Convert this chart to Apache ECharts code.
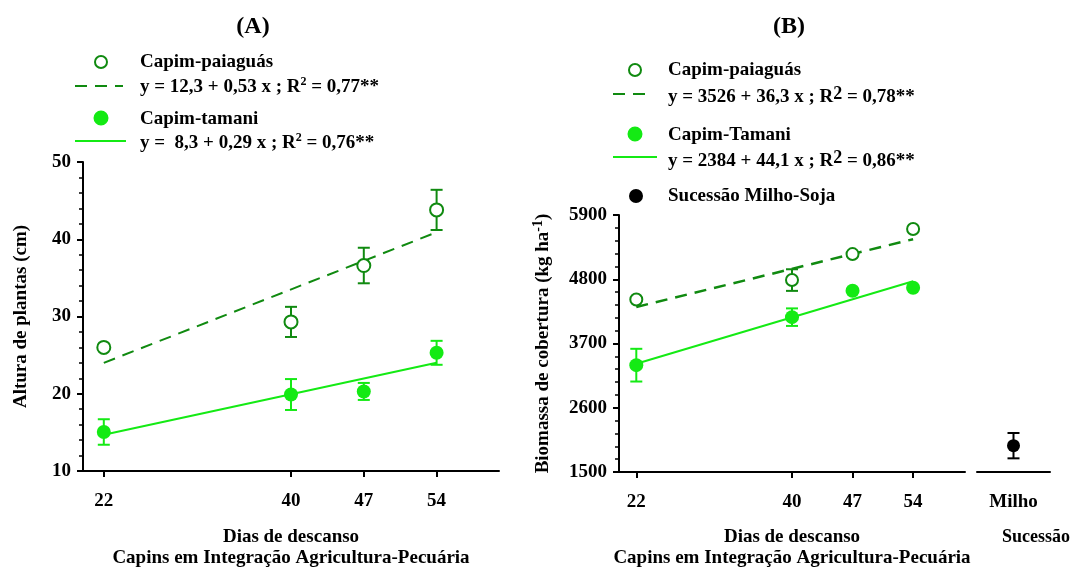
<!DOCTYPE html>
<html>
<head>
<meta charset="utf-8">
<script src="https://cdn.jsdelivr.net/npm/echarts@6/dist/echarts.min.js"></script>
<style>
html,body{margin:0;padding:0;background:#fff;}
#main{width:1072px;height:567px;}
</style>
</head>
<body>
<div id="main"></div>
<script>
// dados
var dias = [22, 40, 47, 54];
var alturaPaia = [26.0, 29.3, 36.6, 43.8];
var alturaPaiaErr = [0, 1.95, 2.3, 2.6];
var alturaTam = [15.05, 19.9, 20.3, 25.3];
var alturaTamErr = [1.65, 2.0, 1.1, 1.55];
var ajusteAlturaPaia = [[22, 24.0], [54, 40.9]];
var ajusteAlturaTam = [[22, 14.7], [54, 24.0]];

var bioPaia = [4454, 4786, 5231, 5660];
var bioPaiaErr = [0, 185, 0, 0];
var bioTam = [3329, 4151, 4603, 4654];
var bioTamErr = [280, 150, 0, 0];
var ajusteBioPaia = [[22, 4325], [54, 5486]];
var ajusteBioTam = [[22, 3354], [54, 4765]];

var milhoCat = ['Milho'];
var milho = [1951];
var milhoErr = [217];

var ticksA = [10, 20, 30, 40, 50];
var ticksB = [1500, 2600, 3700, 4800, 5900];

var escuro = '#108a10';
var claro = '#14ea14';
var fonte = 'Liberation Serif, Times New Roman, serif';
var fs = 19;

function pontos(xs, ys){
	var out = [];
	xs.forEach(function(x, i){ out.push([x, ys[i]]); });
	return out;
}
function barras(xs, ys, es){
	var out = [];
	xs.forEach(function(x, i){
		if(es[i] > 0) out.push([x, ys[i] - es[i], ys[i] + es[i]]);
	});
	return out;
}
function erroSerie(xi, yi, data, cor){
	return {
		type: 'custom', xAxisIndex: xi, yAxisIndex: yi, data: data, z: 3,
		renderItem: function(params, api){
			var lo = api.coord([api.value(0), api.value(1)]);
			var hi = api.coord([api.value(0), api.value(2)]);
			var w = 6;
			var st = {stroke: cor, lineWidth: 2};
			return {type: 'group', children: [
				{type: 'line', shape: {x1: lo[0], y1: lo[1], x2: hi[0], y2: hi[1]}, style: st},
				{type: 'line', shape: {x1: lo[0]-w, y1: lo[1], x2: lo[0]+w, y2: lo[1]}, style: st},
				{type: 'line', shape: {x1: hi[0]-w, y1: hi[1], x2: hi[0]+w, y2: hi[1]}, style: st}
			]};
		}
	};
}
function eixoX(gi){
	return {
		type: 'value', gridIndex: gi, min: 20, max: 60,
		splitLine: {show: false},
		axisLine: {lineStyle: {color: '#000', width: 2}},
		axisTick: {customValues: dias, length: 6, lineStyle: {color: '#000', width: 2}},
		axisLabel: {customValues: dias, margin: 21, color: '#000', fontSize: fs, fontWeight: 'bold', fontFamily: fonte}
	};
}
function eixoY(gi, min, max, itv, nome, gap, ticks){
	return {
		type: 'value', gridIndex: gi, min: min, max: max, interval: itv,
		splitLine: {show: false},
		axisLine: {show: true, lineStyle: {color: '#000', width: 2}},
		axisTick: {show: true, length: 6, lineStyle: {color: '#000', width: 2}},
		minorTick: {show: true, splitNumber: 5, length: 4, lineStyle: {color: '#000', width: 1.5}},
		axisLabel: {customValues: ticks, margin: 12, color: '#000', fontSize: fs, fontWeight: 'bold', fontFamily: fonte,
			formatter: function(v){ return String(v); }},
		name: nome, nameLocation: 'middle', nameGap: gap,
		nameTextStyle: {color: '#000', fontSize: fs, fontWeight: 'bold', fontFamily: fonte,
			rich: {sup: {fontSize: 14, fontWeight: 'bold', fontFamily: fonte, color: '#000', verticalAlign: 'top', padding: [0, 0, 10, 0]}}}
	};
}
function texto(x, y, t, size, align){
	return {type: 'text', x: x, y: y, style: {
		text: t, fill: '#000', font: 'bold ' + (size || fs) + 'px ' + fonte,
		align: align || 'left', verticalAlign: 'middle',
		rich: {
			n: {fontSize: size || fs, fontWeight: 'bold', fontFamily: fonte, fill: '#000'},
			s: {fontSize: 12, fontWeight: 'bold', fontFamily: fonte, fill: '#000', verticalAlign: 'top', padding: [0, 0, 10, 0]},
			b: {fontSize: 18, fontWeight: 'bold', fontFamily: fonte, fill: '#000', verticalAlign: 'top', padding: [0, 0, 6, 0]}
		}
	}};
}
function circulo(cx, cy, r, fill, stroke){
	return {type: 'circle', shape: {cx: cx, cy: cy, r: r}, style: {fill: fill, stroke: stroke, lineWidth: 2}};
}
function linha(x1, x2, y, cor, dash){
	return {type: 'line', shape: {x1: x1, y1: y, x2: x2, y2: y}, style: {stroke: cor, lineWidth: 2, lineDash: dash ? [12, 8] : null}};
}

var myChart = echarts.init(document.getElementById('main'));
var option = {
	animation: false,
	backgroundColor: '#fff',
	grid: [
		{left: 83, top: 162, width: 416, height: 309},
		{left: 619, top: 215, width: 346, height: 257},
		{left: 977, top: 215, width: 73, height: 257}
	],
	xAxis: [
		eixoX(0),
		eixoX(1),
		{
			type: 'category', gridIndex: 2, data: milhoCat, boundaryGap: true,
			axisLine: {lineStyle: {color: '#000', width: 2}},
			axisTick: {alignWithLabel: true, length: 6, lineStyle: {color: '#000', width: 2}},
			axisLabel: {margin: 21, color: '#000', fontSize: fs, fontWeight: 'bold', fontFamily: fonte}
		}
	],
	yAxis: [
		eixoY(0, 10, 50, 10, 'Altura de plantas (cm)', 52, ticksA),
		eixoY(1, 1500, 5900, 1100, 'Biomassa de cobertura (kg ha{sup|-1})', 64, ticksB),
		{type: 'value', gridIndex: 2, min: 1500, max: 5900, show: false}
	],
	graphic: [
		texto(253, 27, '(A)', 24, 'center'),
		circulo(101, 62, 6, '#fff', escuro),
		texto(140, 62, 'Capim-paiaguás'),
		linha(75, 123, 86, escuro, true),
		texto(140, 87, '{n|y = 12,3 + 0,53 x ; R}{s|2}{n| = 0,77**}'),
		circulo(101, 118, 6.5, claro, claro),
		texto(140, 119, 'Capim-tamani'),
		linha(75, 126, 141, claro, false),
		texto(140, 143, '{n|y =  8,3 + 0,29 x ; R}{s|2}{n| = 0,76**}'),
		texto(291, 537, 'Dias de descanso', fs, 'center'),
		texto(291, 558, 'Capins em Integração Agricultura-Pecuária', fs, 'center'),

		texto(789, 27, '(B)', 24, 'center'),
		circulo(635, 70, 6, '#fff', escuro),
		texto(668, 70, 'Capim-paiaguás'),
		linha(613, 653, 94, escuro, true),
		texto(668, 97, '{n|y = 3526 + 36,3 x ; R}{b|2}{n| = 0,78**}'),
		circulo(635, 134, 6.5, claro, claro),
		texto(668, 135, 'Capim-Tamani'),
		linha(613, 657, 157, claro, false),
		texto(668, 161, '{n|y = 2384 + 44,1 x ; R}{b|2}{n| = 0,86**}'),
		circulo(636, 196, 6, '#000', '#000'),
		texto(668, 196, 'Sucessão Milho-Soja'),
		texto(792, 537, 'Dias de descanso', fs, 'center'),
		texto(792, 558, 'Capins em Integração Agricultura-Pecuária', fs, 'center'),
		texto(1070, 537, 'Sucessão', 18, 'right')
	],
	series: [
		// (A) altura
		{type: 'line', xAxisIndex: 0, yAxisIndex: 0, data: ajusteAlturaPaia, showSymbol: false, z: 2,
			lineStyle: {color: escuro, width: 2, type: [12, 8]}},
		{type: 'line', xAxisIndex: 0, yAxisIndex: 0, data: ajusteAlturaTam, showSymbol: false, z: 2,
			lineStyle: {color: claro, width: 2}},
		erroSerie(0, 0, barras(dias, alturaPaia, alturaPaiaErr), escuro),
		erroSerie(0, 0, barras(dias, alturaTam, alturaTamErr), claro),
		{type: 'scatter', xAxisIndex: 0, yAxisIndex: 0, data: pontos(dias, alturaPaia), symbolSize: 13, z: 4,
			itemStyle: {color: '#fff', borderColor: escuro, borderWidth: 2, opacity: 1}},
		{type: 'scatter', xAxisIndex: 0, yAxisIndex: 0, data: pontos(dias, alturaTam), symbolSize: 14, z: 4,
			itemStyle: {color: claro, opacity: 1}},
		// (B) biomassa
		{type: 'line', xAxisIndex: 1, yAxisIndex: 1, data: ajusteBioPaia, showSymbol: false, z: 2,
			lineStyle: {color: escuro, width: 2.5, type: [12, 8]}},
		{type: 'line', xAxisIndex: 1, yAxisIndex: 1, data: ajusteBioTam, showSymbol: false, z: 2,
			lineStyle: {color: claro, width: 2}},
		erroSerie(1, 1, barras(dias, bioPaia, bioPaiaErr), escuro),
		erroSerie(1, 1, barras(dias, bioTam, bioTamErr), claro),
		{type: 'scatter', xAxisIndex: 1, yAxisIndex: 1, data: pontos(dias, bioPaia), symbolSize: 12, z: 4,
			itemStyle: {color: '#fff', borderColor: escuro, borderWidth: 2, opacity: 1}},
		{type: 'scatter', xAxisIndex: 1, yAxisIndex: 1, data: pontos(dias, bioTam), symbolSize: 14, z: 4,
			itemStyle: {color: claro, opacity: 1}},
		// milho
		erroSerie(2, 2, barras([0], milho, milhoErr), '#000'),
		{type: 'scatter', xAxisIndex: 2, yAxisIndex: 2, data: pontos([0], milho), symbolSize: 13, z: 4,
			itemStyle: {color: '#000', opacity: 1}}
	]
};
myChart.setOption(option);
</script>
</body>
</html>
